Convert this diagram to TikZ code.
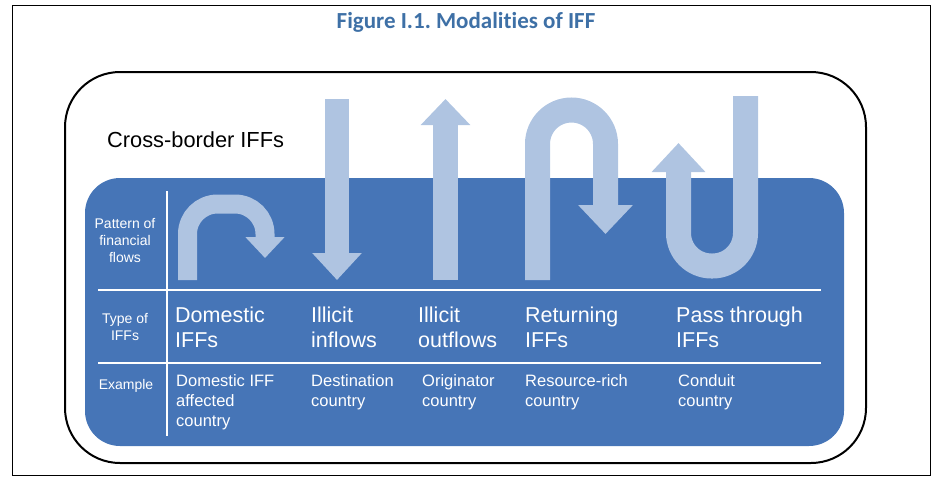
\documentclass[tikz,border=0pt]{standalone}
\usepackage{fontspec}
\setmainfont{Liberation Sans}
\newfontfamily\titlefont[Ligatures=NoCommon]{Carlito Bold}
\usetikzlibrary{arrows.meta}
\frenchspacing
\definecolor{iffblue}{RGB}{70,117,183}
\definecolor{flowblue}{RGB}{175,196,225}
\definecolor{titleblue}{RGB}{62,112,166}
\tikzset{
  flow/.style={draw=flowblue,line width=#1},
  rowlabel/.style={text=white,font=\fontsize{14}{17}\selectfont,align=center,anchor=north,inner sep=0pt},
  typelabel/.style={text=white,font=\fontsize{21.5}{25}\selectfont,align=left,anchor=north west,inner sep=0pt},
  examplelabel/.style={text=white,font=\fontsize{16.5}{20}\selectfont,align=left,anchor=north west,inner sep=0pt},
  divider/.style={draw=white,line width=2pt}
}
\begin{document}
\begin{tikzpicture}[x=1pt,y=-1pt]
	\useasboundingbox (0,0) rectangle (937,480);
	\draw[line width=1pt] (12,5) rectangle (930,475); % cadre
	\node[text=titleblue,font=\titlefont\fontsize{23}{26}\selectfont,anchor=north,inner sep=0pt] (title) at (466,12.5) {Figure I.1. Modalities of IFF};
	\draw[line width=2pt,rounded corners=55pt] (65,72) rectangle (866,463);
	\node[font=\fontsize{21.8}{25}\selectfont,anchor=north west,inner sep=0pt] (crossborder) at (107,131) {Cross-border IFFs};
	\fill[iffblue,rounded corners=35pt] (85,178) rectangle (844,446);
	% les flux
	\draw[flow=19pt,rounded corners=30pt,-{Triangle[width=38pt,length=21pt]}] (187.5,280) -- (187.5,204) -- (265,204) -- (265,258);
	\draw[flow=24pt,-{Triangle[width=48pt,length=27pt]}] (337,99) -- (337,280);
	\draw[flow=25pt,-{Triangle[width=48pt,length=26pt]}] (445.5,280) -- (445.5,99);
	\draw[flow=25pt,rounded corners=34pt,-{Triangle[width=53pt,length=29pt]}] (537.5,280) -- (537.5,110) -- (605.5,110) -- (605.5,234);
	\draw[flow=25pt,rounded corners=33pt,-{Triangle[width=52pt,length=29pt]}] (745.5,96) -- (745.5,266) -- (678.5,266) -- (678.5,143);
	% lignes du tableau
	\draw[divider] (167,191) -- (167,436);
	\draw[divider] (98,290) -- (821,290);
	\draw[divider] (98,363) -- (821,363);
	\node[rowlabel] (pattern) at (125,218) {Pattern of\\financial\\flows};
	\node[rowlabel] (type) at (125,313) {Type of\\IFFs};
	\node[rowlabel] (example) at (126,379) {Example};
	\node[typelabel] (domestic) at (175,307) {Domestic\\IFFs};
	\node[typelabel] (inflows) at (311,307) {Illicit\\inflows};
	\node[typelabel] (outflows) at (418,307) {Illicit\\outflows};
	\node[typelabel] (returning) at (525,307) {Returning\\IFFs};
	\node[typelabel] (passthrough) at (676,307) {Pass through\\IFFs};
	\node[examplelabel] (exdomestic) at (176,374) {Domestic IFF\\affected\\country};
	\node[examplelabel] (exinflows) at (311,374) {Destination\\country};
	\node[examplelabel] (exoutflows) at (422,374) {Originator\\country};
	\node[examplelabel] (exreturning) at (525,374) {Resource-rich\\country};
	\node[examplelabel] (expass) at (678,374) {Conduit\\country};
\end{tikzpicture}
\end{document}
